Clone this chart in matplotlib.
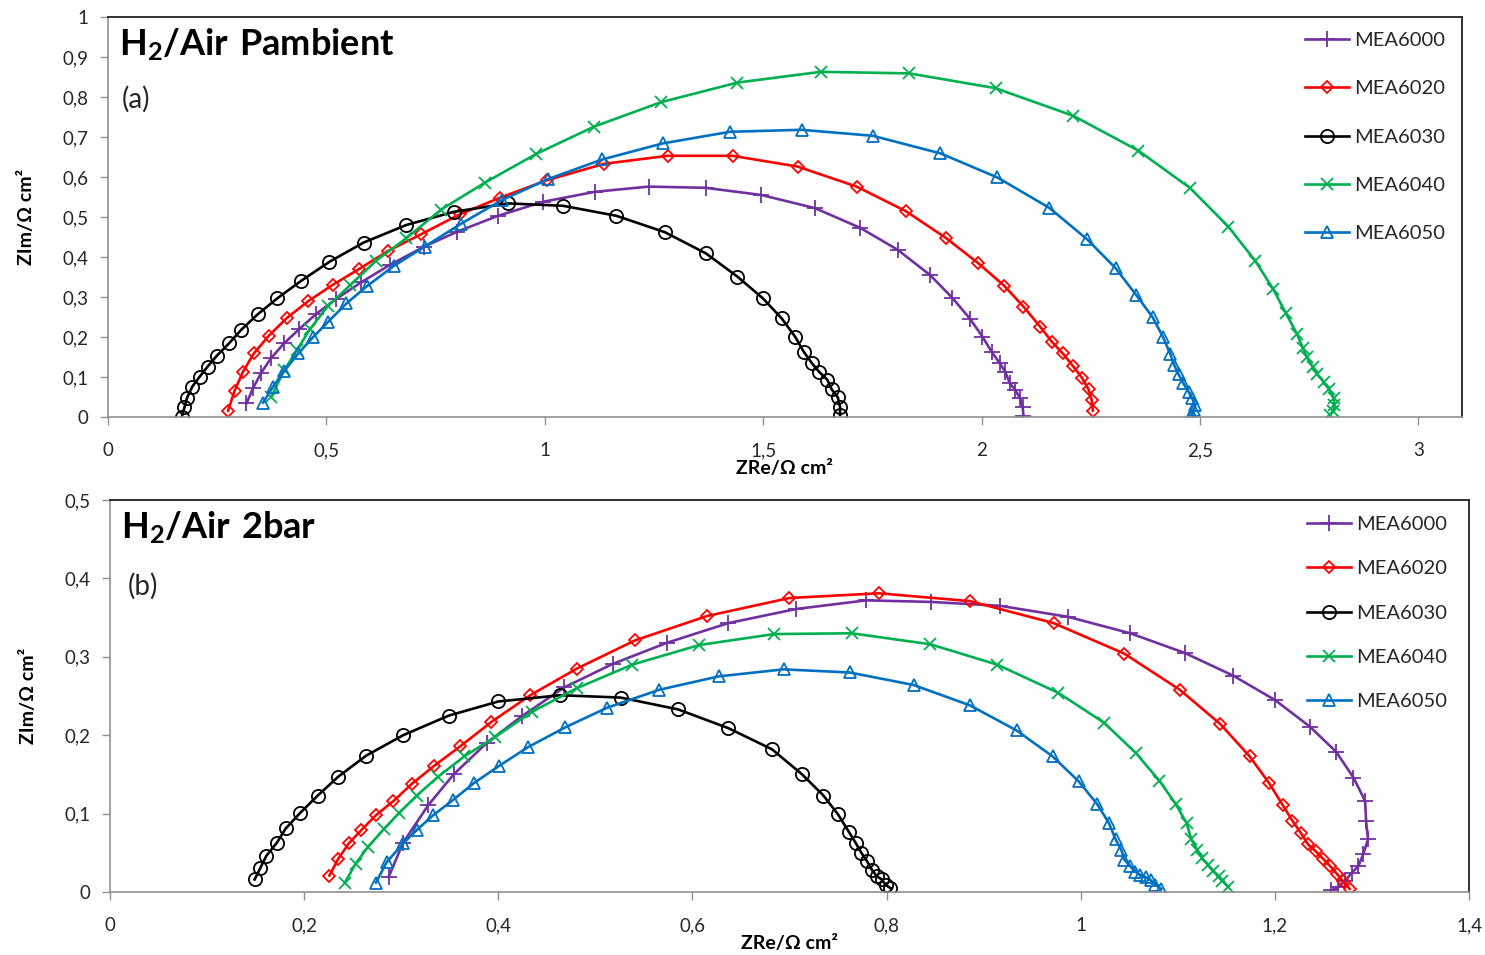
import matplotlib
matplotlib.use('Agg')
import matplotlib.pyplot as plt
from matplotlib.ticker import FuncFormatter

plt.rcParams['font.family'] = ['Lato', 'DejaVu Sans']
plt.rcParams['mathtext.fontset'] = 'custom'
plt.rcParams['mathtext.rm'] = 'Lato'
plt.rcParams['mathtext.bf'] = 'Lato:bold'

# ── (a) H2/Air, ambient pressure ─────────────────────────────────────────────
a6000_x = [0.317, 0.332, 0.351, 0.374, 0.403, 0.437, 0.477, 0.521, 0.580, 0.645, 0.724, 0.799,
           0.893, 0.996, 1.115, 1.238, 1.368, 1.496, 1.619, 1.722, 1.808, 1.882, 1.933, 1.974,
           2.002, 2.023, 2.042, 2.054, 2.065, 2.077, 2.088, 2.094, 2.096]
a6000_y = [0.034, 0.072, 0.111, 0.148, 0.184, 0.219, 0.258, 0.294, 0.337, 0.380, 0.426, 0.463,
           0.503, 0.538, 0.563, 0.576, 0.573, 0.555, 0.522, 0.473, 0.418, 0.355, 0.298, 0.245,
           0.201, 0.163, 0.134, 0.113, 0.084, 0.068, 0.047, 0.026, 0.003]

a6020_x = [0.275, 0.290, 0.309, 0.334, 0.368, 0.410, 0.459, 0.514, 0.575, 0.641, 0.717, 0.806,
           0.897, 1.005, 1.136, 1.281, 1.430, 1.579, 1.714, 1.826, 1.918, 1.993, 2.052, 2.096,
           2.134, 2.161, 2.186, 2.209, 2.230, 2.245, 2.252, 2.255]
a6020_y = [0.016, 0.066, 0.113, 0.159, 0.203, 0.248, 0.290, 0.330, 0.370, 0.415, 0.457, 0.507,
           0.548, 0.592, 0.633, 0.653, 0.653, 0.626, 0.576, 0.515, 0.448, 0.384, 0.328, 0.276,
           0.226, 0.188, 0.159, 0.128, 0.098, 0.069, 0.043, 0.016]

a6030_x = [0.169, 0.175, 0.181, 0.193, 0.210, 0.228, 0.249, 0.277, 0.305, 0.343, 0.388, 0.443,
           0.507, 0.585, 0.683, 0.792, 0.916, 1.042, 1.164, 1.275, 1.369, 1.441, 1.499, 1.542,
           1.573, 1.593, 1.612, 1.628, 1.647, 1.657, 1.671, 1.676, 1.676]
a6030_y = [0.000, 0.024, 0.048, 0.076, 0.101, 0.126, 0.153, 0.184, 0.218, 0.257, 0.297, 0.341,
           0.388, 0.436, 0.480, 0.513, 0.534, 0.528, 0.503, 0.462, 0.409, 0.351, 0.297, 0.247,
           0.201, 0.163, 0.134, 0.113, 0.093, 0.069, 0.049, 0.026, 0.005]

a6040_x = [0.374, 0.404, 0.433, 0.462, 0.504, 0.555, 0.614, 0.683, 0.762, 0.863, 0.981, 1.113,
           1.266, 1.441, 1.632, 1.835, 2.032, 2.210, 2.359, 2.478, 2.565, 2.627, 2.668, 2.697,
           2.722, 2.736, 2.745, 2.758, 2.769, 2.783, 2.796, 2.806, 2.808, 2.805, 2.798]
a6040_y = [0.051, 0.118, 0.168, 0.219, 0.278, 0.330, 0.391, 0.447, 0.518, 0.586, 0.658, 0.726,
           0.787, 0.836, 0.863, 0.859, 0.822, 0.753, 0.666, 0.572, 0.476, 0.390, 0.319, 0.259,
           0.208, 0.172, 0.149, 0.126, 0.107, 0.088, 0.069, 0.047, 0.030, 0.016, 0.005]

a6050_x = [0.355, 0.378, 0.404, 0.436, 0.469, 0.504, 0.546, 0.594, 0.655, 0.725, 0.808, 0.903,
           1.008, 1.132, 1.270, 1.424, 1.588, 1.751, 1.906, 2.036, 2.155, 2.242, 2.307, 2.354,
           2.392, 2.415, 2.432, 2.441, 2.451, 2.462, 2.474, 2.482, 2.489, 2.487, 2.482, 2.478]
a6050_y = [0.036, 0.076, 0.116, 0.159, 0.199, 0.238, 0.284, 0.328, 0.378, 0.426, 0.483, 0.543,
           0.595, 0.644, 0.684, 0.713, 0.718, 0.703, 0.659, 0.599, 0.523, 0.444, 0.372, 0.305,
           0.249, 0.201, 0.158, 0.130, 0.107, 0.084, 0.063, 0.047, 0.030, 0.018, 0.005, 0.000]

# ── (b) H2/Air, 2 bar ────────────────────────────────────────────────────────
b6000_x = [0.287, 0.302, 0.328, 0.354, 0.388, 0.424, 0.468, 0.518, 0.574, 0.637, 0.707, 0.779,
           0.846, 0.917, 0.987, 1.051, 1.107, 1.157, 1.200, 1.236, 1.263, 1.281, 1.293, 1.294,
           1.296, 1.291, 1.286, 1.279, 1.272, 1.265, 1.258]
b6000_y = [0.019, 0.063, 0.111, 0.150, 0.190, 0.224, 0.261, 0.291, 0.318, 0.343, 0.361, 0.372,
           0.370, 0.365, 0.351, 0.330, 0.305, 0.276, 0.245, 0.211, 0.179, 0.146, 0.116, 0.090,
           0.067, 0.048, 0.033, 0.024, 0.014, 0.006, 0.002]

b6020_x = [0.226, 0.235, 0.246, 0.259, 0.274, 0.292, 0.311, 0.334, 0.361, 0.393, 0.433, 0.481,
           0.541, 0.615, 0.700, 0.792, 0.886, 0.972, 1.045, 1.102, 1.144, 1.174, 1.194, 1.208,
           1.218, 1.227, 1.234, 1.242, 1.250, 1.257, 1.264, 1.270, 1.277]
b6020_y = [0.021, 0.042, 0.062, 0.079, 0.098, 0.116, 0.138, 0.161, 0.186, 0.217, 0.251, 0.285,
           0.321, 0.352, 0.375, 0.381, 0.371, 0.343, 0.304, 0.258, 0.214, 0.173, 0.139, 0.111,
           0.091, 0.075, 0.061, 0.052, 0.042, 0.033, 0.023, 0.014, 0.004]

b6030_x = [0.149, 0.155, 0.161, 0.172, 0.181, 0.196, 0.214, 0.235, 0.264, 0.302, 0.349, 0.400,
           0.464, 0.526, 0.585, 0.637, 0.682, 0.713, 0.735, 0.750, 0.761, 0.768, 0.774, 0.780,
           0.785, 0.790, 0.795, 0.799, 0.804]
b6030_y = [0.016, 0.031, 0.046, 0.063, 0.081, 0.101, 0.123, 0.147, 0.174, 0.200, 0.225, 0.243,
           0.251, 0.248, 0.233, 0.209, 0.182, 0.150, 0.123, 0.099, 0.077, 0.063, 0.050, 0.039,
           0.028, 0.020, 0.016, 0.009, 0.005]

b6040_x = [0.242, 0.253, 0.266, 0.282, 0.298, 0.316, 0.338, 0.365, 0.397, 0.435, 0.481, 0.538,
           0.607, 0.684, 0.764, 0.845, 0.914, 0.977, 1.024, 1.057, 1.081, 1.098, 1.109, 1.114,
           1.120, 1.125, 1.131, 1.136, 1.142, 1.146, 1.152]
b6040_y = [0.012, 0.036, 0.058, 0.080, 0.101, 0.123, 0.147, 0.173, 0.198, 0.230, 0.260, 0.290,
           0.315, 0.329, 0.330, 0.316, 0.290, 0.254, 0.216, 0.177, 0.142, 0.112, 0.088, 0.067,
           0.054, 0.043, 0.035, 0.027, 0.020, 0.014, 0.007]

b6050_x = [0.274, 0.285, 0.302, 0.316, 0.333, 0.353, 0.375, 0.401, 0.431, 0.469, 0.512, 0.566,
           0.627, 0.694, 0.762, 0.828, 0.886, 0.934, 0.971, 0.998, 1.017, 1.029, 1.036, 1.042,
           1.045, 1.051, 1.056, 1.061, 1.067, 1.072, 1.077, 1.083]
b6050_y = [0.012, 0.038, 0.062, 0.079, 0.098, 0.117, 0.139, 0.161, 0.185, 0.210, 0.235, 0.258,
           0.275, 0.284, 0.280, 0.264, 0.238, 0.206, 0.173, 0.141, 0.112, 0.088, 0.067, 0.053,
           0.041, 0.033, 0.026, 0.022, 0.019, 0.015, 0.009, 0.004]

labels = ['MEA6000', 'MEA6020', 'MEA6030', 'MEA6040', 'MEA6050']
colors = ['#7030A0', '#FF0000', '#000000', '#00B050', '#0070C0']
markers = ['+', 'D', 'o', 'x', '^']
msizes = [11, 6.5, 9.5, 9, 9]

panel_a = [(a6000_x, a6000_y), (a6020_x, a6020_y), (a6030_x, a6030_y),
           (a6040_x, a6040_y), (a6050_x, a6050_y)]
panel_b = [(b6000_x, b6000_y), (b6020_x, b6020_y), (b6030_x, b6030_y),
           (b6040_x, b6040_y), (b6050_x, b6050_y)]

comma = FuncFormatter(lambda v, p: ('%g' % round(v, 2)).replace('.', ','))


def draw_panel(ax, series, xlim, xstep, ylim, ystep, title, tag, tag_xy, leg_anchor, leg_space):
    for (xs, ys), lab, col, mk, ms in zip(series, labels, colors, markers, msizes):
        ax.plot(xs, ys, color=col, lw=1.9, marker=mk, ms=ms, mfc='none',
                mec=col, mew=1.3, label=lab)
    ax.set_xlim(*xlim)
    ax.set_ylim(*ylim)
    nx = int(round((xlim[1] - xlim[0]) / xstep))
    ax.set_xticks([i * xstep for i in range(nx + 1) if i * xstep <= xlim[1] + 1e-9])
    ny = int(round((ylim[1] - ylim[0]) / ystep))
    ax.set_yticks([i * ystep for i in range(ny + 1)])
    ax.xaxis.set_major_formatter(comma)
    ax.yaxis.set_major_formatter(comma)
    ax.tick_params(axis='both', direction='out', length=6, width=1, color='#909090',
                   labelsize=13.5, labelcolor='#262626')
    ax.tick_params(axis='x', pad=12)
    ax.tick_params(axis='y', pad=8)
    for s in ['left', 'bottom']:
        ax.spines[s].set_color('#909090')
        ax.spines[s].set_linewidth(1.2)
    for s in ['top', 'right']:
        ax.spines[s].set_color('#303030')
        ax.spines[s].set_linewidth(1.4)
    ax.set_xlabel('ZRe/Ω cm²', fontsize=14, fontweight='bold', labelpad=0.5)
    ax.set_ylabel('ZIm/Ω cm²', fontsize=14, fontweight='bold', labelpad=20)
    ax.text(0.008, 0.93, title, transform=ax.transAxes, fontsize=26, va='center', ha='left')
    ax.text(tag_xy[0], tag_xy[1], tag, transform=ax.transAxes, fontsize=20, va='center',
            ha='left', color='#262626')
    leg = ax.legend(loc='upper left', bbox_to_anchor=leg_anchor, frameon=False, fontsize=14.5,
                    handlelength=2.2, handletextpad=0.25, labelspacing=leg_space,
                    borderpad=0, borderaxespad=0)
    for t in leg.get_texts():
        t.set_color('#262626')


fig = plt.figure(figsize=(14.85, 9.55), dpi=100)
fig.patch.set_facecolor('white')

ax1 = fig.add_axes([108 / 1485, 1 - 417 / 955, 1354 / 1485, 400 / 955])
draw_panel(ax1, panel_a, (0, 3.1), 0.5, (0, 1.0), 0.1,
           r'$\mathbf{H_2/Air\ Pambient}$', '(a)', (0.010, 0.795),
           ((1305 - 108) / 1354, (417 - 32) / 400), 1.55)

ax2 = fig.add_axes([110 / 1485, 1 - 892 / 955, 1359 / 1485, 392 / 955])
draw_panel(ax2, panel_b, (0, 1.4), 0.2, (0, 0.5), 0.1,
           r'$\mathbf{H_2/Air\ 2bar}$', '(b)', (0.013, 0.78),
           ((1307 - 110) / 1359, (892 - 516) / 392), 1.35)

plt.savefig('out.png', dpi=100, facecolor='white')
plt.close()
